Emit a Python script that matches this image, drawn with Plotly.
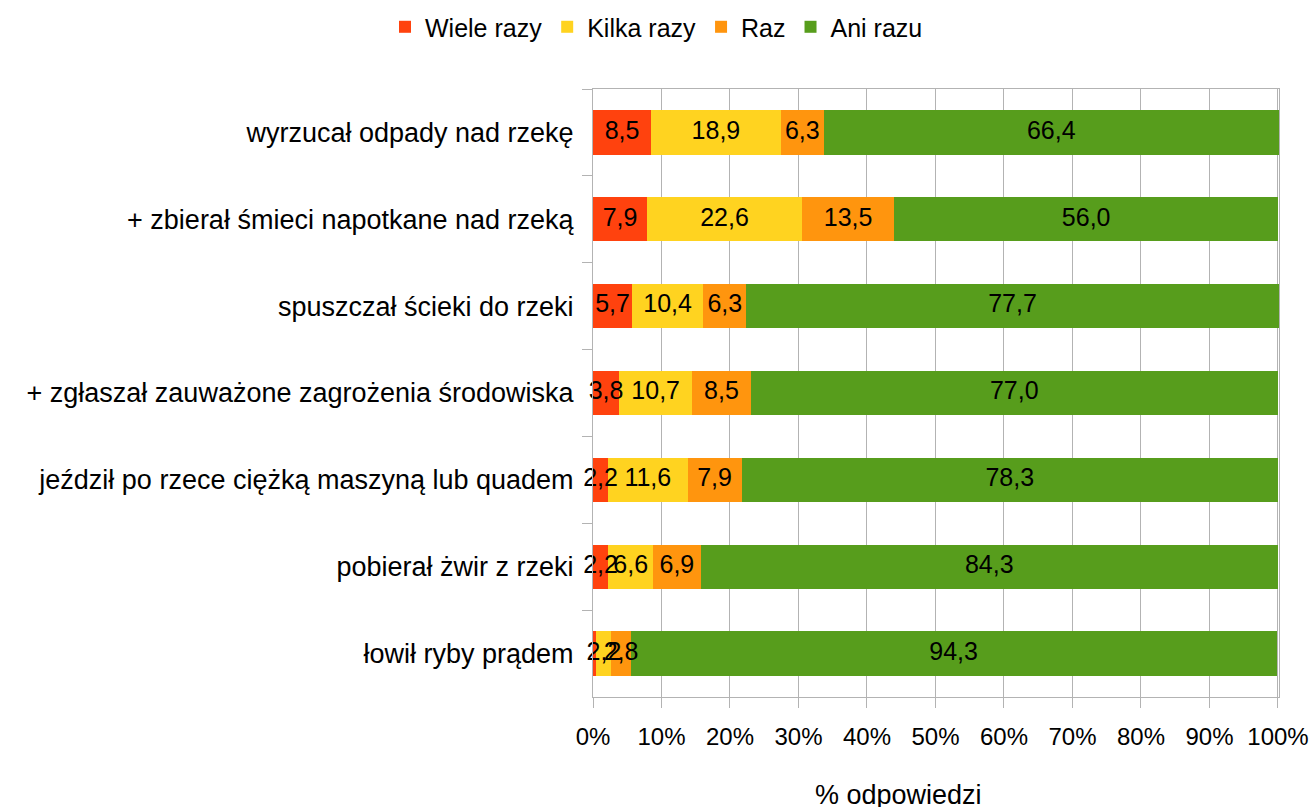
import plotly.graph_objects as go

categories = [
    "wyrzucał odpady nad rzekę",
    "+ zbierał śmieci napotkane nad rzeką",
    "spuszczał ścieki do rzeki",
    "+ zgłaszał zauważone zagrożenia środowiska",
    "jeździł po rzece ciężką maszyną lub quadem",
    "pobierał żwir z rzeki",
    "łowił ryby prądem",
]
wiele_razy = [8.5, 7.9, 5.7, 3.8, 2.2, 2.2, 0.5]
kilka_razy = [18.9, 22.6, 10.4, 10.7, 11.6, 6.6, 2.2]
raz = [6.3, 13.5, 6.3, 8.5, 7.9, 6.9, 2.8]
ani_razu = [66.4, 56.0, 77.7, 77.0, 78.3, 84.3, 94.3]

tick_vals = [0, 10, 20, 30, 40, 50, 60, 70, 80, 90, 100]
tick_text = ["0%", "10%", "20%", "30%", "40%", "50%", "60%", "70%", "80%", "90%", "100%"]

series = [
    ("Wiele razy", wiele_razy, "#ff420e"),
    ("Kilka razy", kilka_razy, "#ffd320"),
    ("Raz", raz, "#ff950e"),
    ("Ani razu", ani_razu, "#579d1c"),
]

FONT = "Liberation Sans, Arial, sans-serif"

def fmt(v):
    return f"{v:.1f}".replace(".", ",") if v >= 1 else ""

fig = go.Figure()
base = [0.0] * len(categories)
lab_x, lab_y, lab_t = [], [], []
for name, vals, col in series:
    fig.add_trace(go.Bar(
        y=categories, x=vals, name=name, orientation="h",
        marker=dict(color=col, line=dict(width=0)),
        cliponaxis=False, hoverinfo="x+name",
    ))
    for i, v in enumerate(vals):
        lab_x.append(base[i] + v / 2)
        lab_y.append(categories[i])
        lab_t.append(fmt(v))
        base[i] += v

# value labels drawn above all bars (as in the reference)
fig.add_trace(go.Scatter(
    x=lab_x, y=lab_y, text=lab_t, mode="text", showlegend=False,
    textposition="middle center", cliponaxis=False, hoverinfo="skip",
    textfont=dict(color="black", size=25, family=FONT),
))

fig.update_layout(
    barmode="stack",
    bargap=0.49,
    width=1313, height=807,
    margin=dict(l=593, r=34, t=89, b=110, autoexpand=False),
    paper_bgcolor="white", plot_bgcolor="white",
    font=dict(family=FONT, size=25, color="black"),
    legend=dict(orientation="h", x=0.5, xref="container", xanchor="center",
                y=0.995, yref="container", yanchor="top",
                font=dict(size=25), traceorder="normal"),
    showlegend=True,
)
fig.update_xaxes(
    range=[0, 100.15], tickvals=tick_vals, ticktext=tick_text,
    showgrid=True, gridcolor="#b3b3b3", gridwidth=1,
    showline=True, linecolor="#b3b3b3", mirror=True,
    ticks="outside", ticklen=10, tickcolor="#b3b3b3",
    tickfont=dict(size=24), ticklabelstandoff=8,
    zeroline=False, fixedrange=True, automargin=False,
)
fig.update_yaxes(
    autorange="reversed", categoryorder="array", categoryarray=categories,
    showline=True, linecolor="#b3b3b3", mirror=True,
    ticks="outside", ticklen=10, tickcolor="#b3b3b3", tickson="boundaries",
    tickfont=dict(size=27), ticklabelstandoff=13,
    showgrid=False, fixedrange=True, automargin=False,
)
fig.add_annotation(
    text="% odpowiedzi", xref="paper", yref="paper", x=0.446, y=0,
    yshift=-98, showarrow=False, font=dict(size=27), yanchor="middle",
)
fig.write_html("out.html", config={"displayModeBar": False},
               post_script="document.body.style.margin='0';document.body.style.overflow='hidden';")
